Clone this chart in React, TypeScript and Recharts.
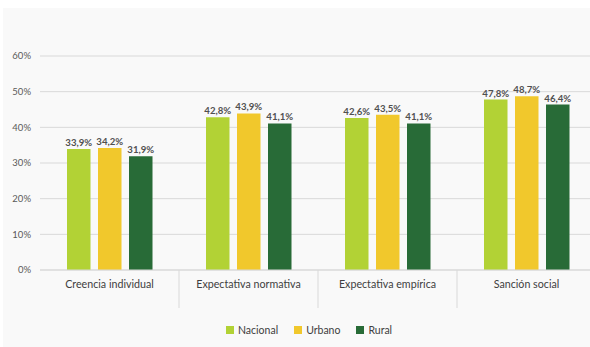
import React from 'react';
import { BarChart, Bar, XAxis, YAxis, CartesianGrid, LabelList } from 'recharts';

const categories = ['Creencia individual', 'Expectativa normativa', 'Expectativa empírica', 'Sanción social'];
const nacional = [33.9, 42.8, 42.6, 47.8];
const urbano = [34.2, 43.9, 43.5, 48.7];
const rural = [31.9, 41.1, 41.1, 46.4];
const yTicks = [0, 10, 20, 30, 40, 50, 60];
const seriesNames = ['Nacional', 'Urbano', 'Rural'];
const seriesKeys = ['nacional', 'urbano', 'rural'];
const seriesColors = ['#b2d235', '#f1c82c', '#286b37'];

const data = categories.map((name, i) => ({
  name,
  nacional: nacional[i],
  urbano: urbano[i],
  rural: rural[i],
}));

const FONT = 'Lato, "Open Sans", sans-serif';
const CHART_W = 600;
const CHART_H = 347;
const MARGIN = { top: 56, right: 4, left: 0, bottom: 37 };
const Y_W = 40;
const BAND_HALF = (CHART_W - MARGIN.left - MARGIN.right - Y_W) / categories.length / 2;

const fmt = (v: number) => v.toFixed(1).replace('.', ',') + '%';

const CategoryTick = (props: any) => {
  const { x, y, payload, index } = props;
  return (
    <g>
      {index > 0 && (
        <line x1={x - BAND_HALF} x2={x - BAND_HALF} y1={y} y2={y + 38} stroke="#d9d9d9" strokeWidth={1} />
      )}
      <text x={x} y={y + 18} textAnchor="middle" fill="#404040" fontSize={10.7} fontFamily={FONT}>
        {payload.value}
      </text>
    </g>
  );
};

export default function App() {
  return (
    <div style={{ position: 'fixed', left: 0, top: 0, width: 590, height: 347, overflow: 'hidden', background: '#ffffff' }}>
      <div style={{ position: 'absolute', left: 3, top: 8, width: 600, height: 339, background: '#f9f9f9' }} />
      <div style={{ position: 'absolute', left: 0, top: 0 }}>
        <BarChart width={CHART_W} height={CHART_H} data={data} margin={MARGIN} barGap={7.5} barSize={23.5}>
          <CartesianGrid vertical={false} stroke="#d9d9d9" />
          <YAxis
            width={Y_W}
            domain={[0, 60]}
            ticks={yTicks}
            tickFormatter={(v: number) => v + '%'}
            axisLine={false}
            tickLine={false}
            tickMargin={3}
            tick={{ fill: '#595959', fontSize: 9.5, fontFamily: FONT }}
            interval={0}
          />
          <XAxis
            dataKey="name"
            height={40}
            tickLine={false}
            tickSize={0}
            tickMargin={0}
            interval={0}
            axisLine={{ stroke: '#d9d9d9' }}
            tick={<CategoryTick />}
          />
          {seriesKeys.map((k, i) => (
            <Bar key={k} dataKey={k} name={seriesNames[i]} fill={seriesColors[i]} isAnimationActive={false}>
              <LabelList
                dataKey={k}
                position="top"
                offset={3}
                formatter={(v: any) => fmt(Number(v))}
                style={{ fill: '#505050', fontSize: 9.6, fontWeight: 700, fontFamily: FONT }}
              />
            </Bar>
          ))}
        </BarChart>
      </div>
      <div
        style={{
          position: 'absolute',
          left: 226,
          top: 323,
          display: 'flex',
          alignItems: 'center',
          gap: 16,
          fontFamily: FONT,
          fontSize: 10.5,
          color: '#404040',
          height: 14,
        }}
      >
        {seriesNames.map((n, i) => (
          <div key={n} style={{ display: 'flex', alignItems: 'center' }}>
            <span style={{ display: 'inline-block', width: 8, height: 8, background: seriesColors[i], marginRight: 4 }} />
            <span>{n}</span>
          </div>
        ))}
      </div>
    </div>
  );
}
